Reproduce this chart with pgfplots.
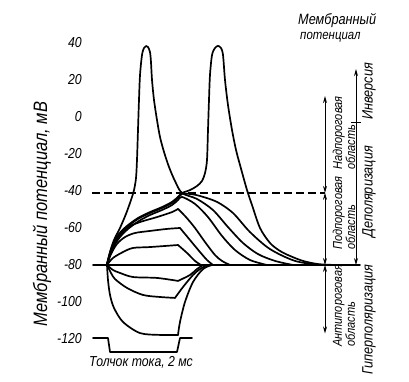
\documentclass[border=0pt]{standalone}
\usepackage{fontspec}
\setmainfont{Liberation Sans}[FakeStretch=0.85]
\usepackage{pgfplots}
\pgfplotsset{compat=1.18}
\usetikzlibrary{arrows.meta}
\newcommand{\fs}[2]{\fontsize{#1}{#2}\selectfont\itshape}
\tikzset{ar/.style={line width=0.8bp, {Stealth[length=7bp,width=4bp]}-{Stealth[length=7bp,width=4bp]}},
         ar1/.style={line width=0.8bp, -{Stealth[length=7bp,width=4bp]}}}
\begin{document}
\begin{tikzpicture}
\begin{axis}[
  x=35.5bp, y=1.85bp,
  xmin=-0.535, xmax=6.282, ymin=-130, ymax=50,
  axis line style={draw=none},
  xtick=\empty,
  ytick={-120,-100,-80,-60,-40,-20,0,20,40},
  yticklabels={-120,-100,-80,-60,-40,-20,0,20,40},
  major tick length=0pt,
  yticklabel style={anchor=east, inner sep=0pt, xshift=-6bp, font={\fs{14.5}{15}}},
  ylabel={Мембранный потенциал, мВ},
  every axis y label/.style={at={(axis cs:-1.831,-52.4)}, rotate=90, anchor=center, font={\fs{19.5}{20}}},
  xlabel={Толчок тока, 2 мс},
  every axis x label/.style={at={(axis cs:0.958,-132.4)}, anchor=center, font={\fs{14.5}{15}}},
  clip=false,
  cycle list={{black}},
  no markers,
  every axis plot/.append style={black, line width=1.7bp, line join=round, line cap=round},
]
% baseline and threshold
\addplot coordinates {(-0.394,-80) (7.127,-80)};
\addplot[dash pattern=on 8bp off 4bp, line cap=butt] coordinates {(-0.423,-41) (6.141,-41)};
% current pulse
\addplot coordinates {(-0.394,-119.5) (0.028,-119.5) (0.085,-127) (1.972,-127) (2.056,-119.5) (2.394,-119.5)};
% spike 1
\addplot[smooth, tension=0.5] coordinates {
(0,-80) (0.085,-73.0) (0.197,-66.5) (0.366,-60.0) (0.535,-52.4) (0.676,-44.9) (0.761,-39.5)
(0.817,-33.0) (0.845,-23.2) (0.873,-7.0) (0.901,9.2) (0.930,22.7) (0.986,33.5) (1.042,37.3)
(1.099,38.4) (1.155,37.8) (1.211,35.1) (1.239,29.7) (1.268,20.0) (1.324,9.2) (1.408,-1.6)
(1.493,-10.8) (1.606,-18.9) (1.746,-27.0) (1.915,-34.6) (2.113,-41.1) (2.535,-44.3)
(2.986,-50.3) (3.408,-59.5) (3.831,-68.1) (4.254,-74.1) (4.732,-77.8) (5.239,-80)};
% spike 2
\addplot[smooth, tension=0.5] coordinates {
(0,-80) (0.056,-75.1) (0.169,-68.6) (0.338,-63.2) (0.563,-58.9) (0.873,-54.6) (1.211,-51.4)
(1.549,-48.7) (1.831,-45.9) (2.000,-43.2) (2.113,-41.1) (2.338,-39.5) (2.535,-37.3)
(2.676,-34.6) (2.761,-30.3) (2.817,-23.2) (2.845,-7.0) (2.873,9.2) (2.901,22.7) (2.958,33.5)
(3.042,37.3) (3.127,38.4) (3.211,37.3) (3.268,33.5) (3.324,20.0) (3.408,6.5) (3.521,-7.0)
(3.634,-17.8) (3.746,-25.9) (3.944,-39.5) (4.085,-47.6) (4.310,-60.0) (4.592,-68.1)
(4.873,-72.4) (5.155,-75.1) (5.521,-77.8) (5.944,-79.5) (6.423,-80)};
% threshold local response
\addplot[smooth, tension=0.5] coordinates {
(0,-80) (0.056,-75.7) (0.169,-69.2) (0.338,-63.8) (0.563,-59.5) (0.873,-55.1) (1.211,-51.9)
(1.549,-49.2) (1.831,-46.5) (2.000,-43.8) (2.113,-41.6) (2.338,-41.6) (2.620,-42.7)
(3.099,-45.9) (3.549,-51.9) (4.028,-62.2) (4.592,-71.4) (5.296,-77.8) (6.0,-80)};
% near-threshold local response
\addplot[smooth, tension=0.5] coordinates {
(0,-80) (0.085,-74.6) (0.197,-69.7) (0.366,-64.9) (0.592,-60.5) (0.901,-56.2) (1.211,-53.0)
(1.549,-50.3) (1.831,-47.6) (2.000,-44.9) (2.113,-43.2) (2.479,-47.0) (2.845,-54.1)
(3.239,-64.3) (3.606,-71.9) (4.028,-77.3) (4.507,-80)};
% subthreshold D3
\addplot[smooth, tension=0.5] coordinates {
(0,-80) (0.028,-77.3) (0.225,-68.1) (0.563,-60.0) (0.930,-56.8) (1.408,-54.1) (1.831,-51.4) (2.000,-49.7)};
\addplot[smooth, tension=0.5] coordinates {
(2.000,-49.7) (2.225,-54.1) (2.479,-60.0) (2.761,-67.6) (3.042,-74.6) (3.239,-77.8) (3.465,-80)};
% D2
\addplot[smooth, tension=0.5] coordinates {
(0,-80) (0.113,-74.1) (0.282,-68.6) (0.507,-64.9) (0.789,-62.7) (1.211,-61.6) (1.690,-60.5) (2.056,-60.0)};
\addplot[smooth, tension=0.5] coordinates {
(2.056,-60.0) (2.338,-66.5) (2.620,-73.0) (2.817,-77.3) (2.986,-80)};
% D1
\addplot[smooth, tension=0.5] coordinates {
(0,-80) (0.169,-76.2) (0.451,-73.0) (0.732,-70.8) (1.211,-70.3) (2.000,-69.2)};
\addplot[smooth, tension=0.5] coordinates {
(2.000,-69.2) (2.254,-73.5) (2.479,-77.8) (2.648,-80)};
% H1
\addplot[smooth, tension=0.5] coordinates {
(0,-80) (0.169,-82.7) (0.366,-84.3) (0.732,-86.5) (1.408,-87.0) (2.000,-88.6)};
\addplot[smooth, tension=0.5] coordinates {
(2.000,-88.6) (2.338,-85.4) (2.535,-82.2) (2.704,-80)};
% H2
\addplot[smooth, tension=0.5] coordinates {
(0,-80) (0.113,-84.3) (0.225,-87.6) (0.563,-92.4) (1.014,-96.2) (1.493,-97.3) (1.915,-97.8)};
\addplot[smooth, tension=0.5] coordinates {
(1.915,-97.8) (2.141,-91.9) (2.423,-85.4) (2.620,-82.2) (2.817,-80)};
% H3
\addplot[smooth, tension=0.5] coordinates {
(0,-80) (0.028,-88.1) (0.085,-96.2) (0.197,-103.2) (0.451,-110.8) (0.930,-116.8) (1.493,-117.8) (2.000,-117.8)};
\addplot[smooth, tension=0.5] coordinates {
(2.000,-117.8) (2.056,-110.8) (2.197,-100.0) (2.423,-89.2) (2.704,-82.2) (2.958,-80)};
% annotation scales
\draw[ar] (axis cs:6.141,-41) -- (axis cs:6.141,11.3);
\draw[ar] (axis cs:6.141,-80) -- (axis cs:6.141,-41);
\draw[ar] (axis cs:6.141,-80) -- (axis cs:6.141,-117);
\draw[ar1] (axis cs:7.014,-2.7) -- (axis cs:7.014,25.9);
\draw[ar1] (axis cs:7.014,-2.7) -- (axis cs:7.014,-80);
\draw[line width=0.8bp] (axis cs:6.873,-2.7) -- (axis cs:7.155,-2.7);
% annotation texts
\node[rotate=90, anchor=west, align=left, inner sep=0pt, font={\fs{13}{10}}] at (axis cs:6.676,-28.7) {Надпороговая\\область};
\node[rotate=90, anchor=west, align=left, inner sep=0pt, font={\fs{13}{10}}] at (axis cs:6.676,-71.9) {Подпороговая\\область};
\node[rotate=90, anchor=west, align=left, inner sep=0pt, font={\fs{13}{10}}] at (axis cs:6.676,-124.3) {Антипороговая\\область};
\node[rotate=90, anchor=west, inner sep=0pt, font={\fs{15}{15}}] at (axis cs:7.380,-1.6) {Инверсия};
\node[rotate=90, anchor=west, inner sep=0pt, font={\fs{15}{15}}] at (axis cs:7.380,-65.4) {Деполяризация};
\node[rotate=90, anchor=west, inner sep=0pt, font={\fs{15}{15}}] at (axis cs:7.380,-139.5) {Гиперполяризация};
\node[anchor=west, inner sep=0pt, font={\fs{15}{15}}] at (axis cs:5.380,52.4) {Мембранный};
\node[anchor=west, inner sep=0pt, font={\fs{13.5}{13.5}}] at (axis cs:5.437,43.2) {потенциал};
% picture extent
\path (axis cs:-3.0141,-143.243) rectangle (axis cs:8.5070,63.243);
\end{axis}
\end{tikzpicture}
\end{document}
